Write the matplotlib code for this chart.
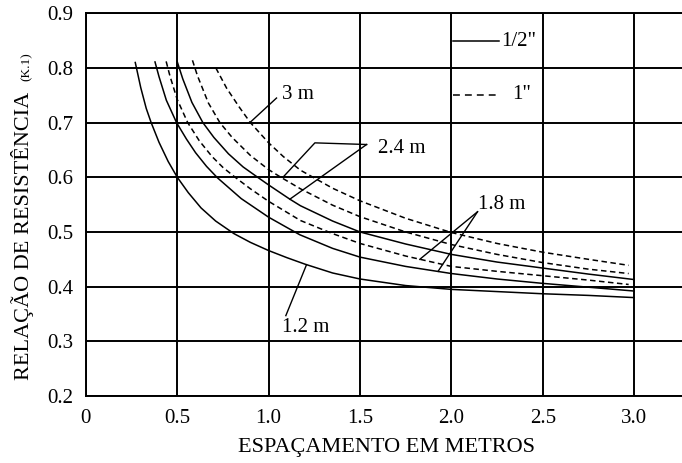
import matplotlib
matplotlib.use("Agg")
import matplotlib.pyplot as plt

plt.rcParams['font.family'] = ['Liberation Serif', 'DejaVu Serif']

# curvas (espaçamento em m -> relação de resistência)
x_12 = [0.27, 0.30, 0.33, 0.357, 0.40, 0.45, 0.50, 0.56, 0.63, 0.71, 0.81, 0.90, 1.0, 1.1, 1.2, 1.35, 1.5, 1.75, 2.0, 2.25, 2.5, 2.75, 3.0]
y_12 = [0.81, 0.764, 0.726, 0.70, 0.664, 0.629, 0.600, 0.572, 0.544, 0.520, 0.497, 0.481, 0.466, 0.453, 0.441, 0.425, 0.414, 0.402, 0.395, 0.391, 0.387, 0.384, 0.380]

x_18s = [0.378, 0.40, 0.44, 0.496, 0.55, 0.60, 0.66, 0.72, 0.85, 1.0, 1.17, 1.35, 1.5, 1.75, 2.0, 2.25, 2.5, 2.75, 3.0]
y_18s = [0.811, 0.784, 0.741, 0.70, 0.670, 0.645, 0.620, 0.599, 0.561, 0.527, 0.495, 0.470, 0.454, 0.437, 0.424, 0.414, 0.406, 0.399, 0.392]

x_18d = [0.439, 0.46, 0.50, 0.557, 0.62, 0.69, 0.75, 0.817, 0.90, 1.0, 1.174, 1.35, 1.5, 1.75, 2.0, 2.25, 2.5, 2.75, 2.97]
y_18d = [0.812, 0.785, 0.742, 0.70, 0.667, 0.638, 0.618, 0.60, 0.579, 0.556, 0.521, 0.497, 0.479, 0.456, 0.437, 0.428, 0.420, 0.412, 0.404]

x_24s = [0.50, 0.53, 0.58, 0.64, 0.70, 0.78, 0.86, 0.94, 1.0, 1.116, 1.174, 1.35, 1.5, 1.75, 2.0, 2.25, 2.5, 2.75, 3.0]
y_24s = [0.811, 0.780, 0.737, 0.70, 0.673, 0.643, 0.619, 0.60, 0.586, 0.560, 0.548, 0.520, 0.500, 0.478, 0.459, 0.445, 0.434, 0.423, 0.413]

x_24d = [0.583, 0.61, 0.67, 0.733, 0.80, 0.90, 1.0, 1.067, 1.174, 1.35, 1.5, 1.75, 2.0, 2.25, 2.5, 2.75, 2.97]
y_24d = [0.814, 0.786, 0.736, 0.70, 0.673, 0.640, 0.614, 0.60, 0.579, 0.549, 0.528, 0.500, 0.477, 0.459, 0.444, 0.432, 0.424]

x_3d = [0.711, 0.77, 0.84, 0.90, 1.0, 1.08, 1.174, 1.35, 1.5, 1.75, 2.0, 2.25, 2.5, 2.75, 2.97]
y_3d = [0.80, 0.763, 0.728, 0.70, 0.663, 0.638, 0.613, 0.580, 0.557, 0.525, 0.499, 0.479, 0.463, 0.450, 0.439]

xticks = [0, 0.5, 1.0, 1.5, 2.0, 2.5, 3.0]
xtick_labels = ["0", "0.5", "1.0", "1.5", "2.0", "2.5", "3.0"]
yticks = [0.2, 0.3, 0.4, 0.5, 0.6, 0.7, 0.8, 0.9]
ytick_labels = ["0.2", "0.3", "0.4", "0.5", "0.6", "0.7", "0.8", "0.9"]

# rótulos das curvas: texto, posição do texto, pontos de chamada
rotulos = [
    ("3 m", (1.072, 0.751), [[(1.043, 0.745), (0.897, 0.700)]]),
    ("2.4 m", (1.597, 0.652), [[(1.536, 0.660), (1.253, 0.663), (1.078, 0.600)],
                               [(1.536, 0.660), (1.116, 0.560)]]),
    ("1.8 m", (2.146, 0.550), [[(2.143, 0.537), (1.827, 0.450)],
                               [(2.143, 0.537), (1.927, 0.428)]]),
    ("1.2 m", (1.074, 0.325), [[(1.094, 0.347), (1.207, 0.440)]]),
]

# legenda desenhada dentro do gráfico
leg_solida = ([2.01, 2.26], [0.849, 0.849])
leg_tracejada = ([2.01, 2.245], [0.751, 0.751])
leg_textos = [('1/2"', (2.27, 0.849)), ('1"', (2.335, 0.751))]

fig = plt.figure(figsize=(6.82, 4.63), dpi=100)
ax = fig.add_axes([0.126, 0.1447, 0.874, 0.8266])

lw = 1.1
tracejado = (3.6, 2.3)
for xs, ys in [(x_12, y_12), (x_18s, y_18s), (x_24s, y_24s)]:
    ax.plot(xs, ys, color='black', lw=lw)
for xs, ys in [(x_18d, y_18d), (x_24d, y_24d), (x_3d, y_3d)]:
    ax.plot(xs, ys, color='black', lw=lw, dashes=tracejado)

for texto, pos, chamadas in rotulos:
    ax.text(pos[0], pos[1], texto, fontsize=15, ha='left', va='center')
    for c in chamadas:
        ax.plot([p[0] for p in c], [p[1] for p in c], color='black', lw=1.0)

ax.plot(*leg_solida, color='black', lw=lw)
ax.plot(*leg_tracejada, color='black', lw=lw, dashes=(4.5, 3.3))
for texto, pos in leg_textos:
    ax.text(pos[0], pos[1], texto, fontsize=15, ha='left', va='center')

ax.set_xlim(0, 3.262)
ax.set_ylim(0.2, 0.9)
ax.set_xticks(xticks)
ax.set_xticklabels(xtick_labels)
ax.set_yticks(yticks)
ax.set_yticklabels(ytick_labels)
ax.tick_params(length=0, labelsize=15, pad=9)
ax.grid(True, color='black', linewidth=1.4)
ax.set_axisbelow(True)
for lado in ['left', 'bottom', 'top']:
    ax.spines[lado].set_linewidth(1.4)
ax.spines['right'].set_visible(False)

fig.text(0.566, 0.033, "ESPAÇAMENTO EM METROS", fontsize=16, ha='center', va='center')
fig.text(0.033, 0.491, "RELAÇÃO DE RESISTÊNCIA", fontsize=16, rotation=90, ha='center', va='center')
fig.text(0.039, 0.857, "(K.1)", fontsize=9.5, rotation=90, ha='center', va='center')

fig.savefig("out.png", dpi=100)
